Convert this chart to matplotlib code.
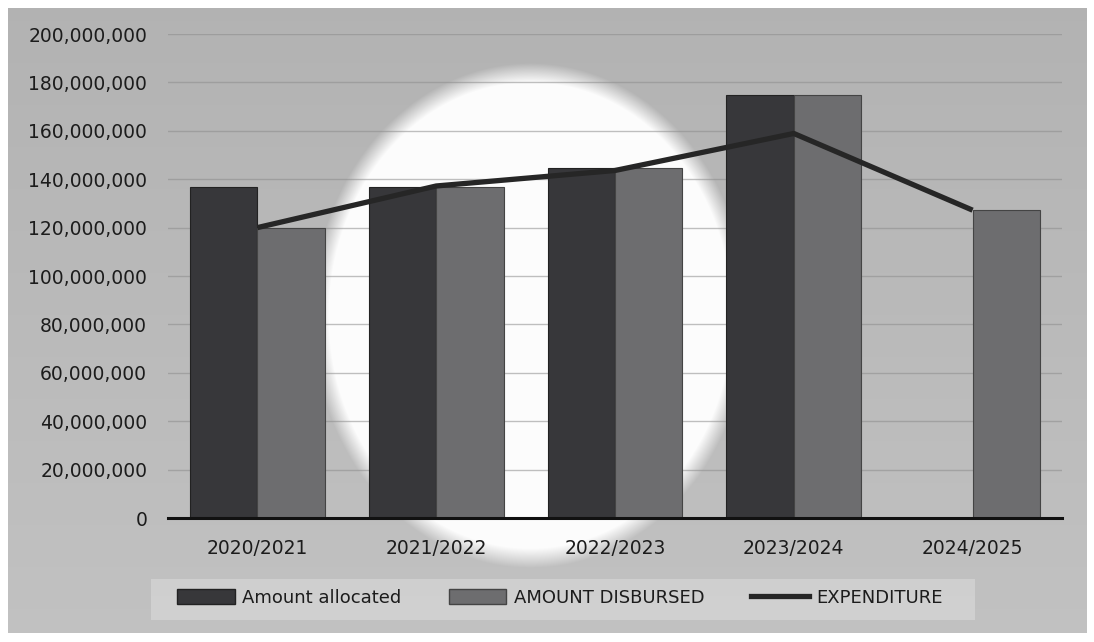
import numpy as np
import matplotlib.pyplot as plt
from matplotlib.patches import Patch
from matplotlib.lines import Line2D
from matplotlib.ticker import FuncFormatter

# budget figures per financial year
years = ["2020/2021", "2021/2022", "2022/2023", "2023/2024", "2024/2025"]
allocated = [136800000, 136800000, 144600000, 174800000, 0]
disbursed = [120000000, 136800000, 144600000, 174800000, 127300000]
expenditure = [120000000, 137200000, 143600000, 158900000, 127200000]

W, H = 1094, 642
fig = plt.figure(figsize=(W / 100, H / 100), dpi=100)

# grey paper background with a bright spot in the middle
bg = fig.add_axes([0, 0, 1, 1])
yy, xx = np.mgrid[0:H, 0:W]
base = 0.70 + 0.06 * (yy / H)
r = np.hypot((xx - 530) / 212.0, (yy - 315) / 245.0)
glow = np.clip((1.03 - r) / 0.08, 0, 1)
img = base + (0.99 - base) * glow
# lighter strip behind the legend
band = (xx > 150) & (xx < 975) & (yy > 578) & (yy < 620)
img = np.where(band & (glow < 0.5), img + 0.06, img)
# white border of the scan
border = (xx < 8) | (xx > W - 8) | (yy < 8) | (yy > H - 10)
img = np.where(border, 1.0, img)
bg.imshow(np.dstack([img, img, img]).clip(0, 1), aspect="auto", interpolation="bilinear")
bg.axis("off")

ax = fig.add_axes([168 / W, (H - 518) / H, (1062 - 168) / W, (518 - 34) / H])
ax.set_facecolor("none")

x = np.arange(len(years))
w = 0.377
ax.bar(x - w / 2, allocated, w, color="#37373a", edgecolor="#222222", linewidth=0.8,
       label="Amount allocated", zorder=2)
ax.bar(x + w / 2, disbursed, w, color="#6d6d6f", edgecolor="#444444", linewidth=0.8,
       label="AMOUNT DISBURSED", zorder=2)
ax.plot(x, expenditure, color="#262626", linewidth=3.8, solid_capstyle="butt",
        label="EXPENDITURE", zorder=3)

ax.set_xlim(-0.5, len(years) - 0.5)
ax.set_ylim(0, 200000000)
ax.set_yticks(np.arange(0, 200000001, 20000000))
ax.yaxis.set_major_formatter(FuncFormatter(lambda v, p: f"{int(v):,}"))
ax.set_xticks(x)
ax.set_xticklabels(years)
ax.tick_params(axis="both", length=0, labelsize=13.5, colors="#1c1c1c")
ax.tick_params(axis="y", pad=15)
ax.tick_params(axis="x", pad=15)
ax.grid(axis="y", color="#8c8c8c", linewidth=1, alpha=0.55, zorder=0)
for s in ["top", "right", "left"]:
    ax.spines[s].set_visible(False)
ax.spines["bottom"].set_linewidth(2.2)
ax.spines["bottom"].set_color("#111111")
ax.spines["bottom"].set_zorder(4)

handles = [
    Patch(facecolor="#37373a", edgecolor="#222222", label="Amount allocated"),
    Patch(facecolor="#6d6d6f", edgecolor="#444444", label="AMOUNT DISBURSED"),
    Line2D([0], [0], color="#262626", linewidth=3.8, label="EXPENDITURE"),
]
fig.legend(handles=handles, loc="center", bbox_to_anchor=(560 / W, (H - 598) / H),
           ncol=3, frameon=False, fontsize=13, handlelength=3.2, handleheight=0.9,
           handletextpad=0.4, columnspacing=2.6, labelcolor="#1c1c1c")

fig.savefig("out.png", dpi=100)
